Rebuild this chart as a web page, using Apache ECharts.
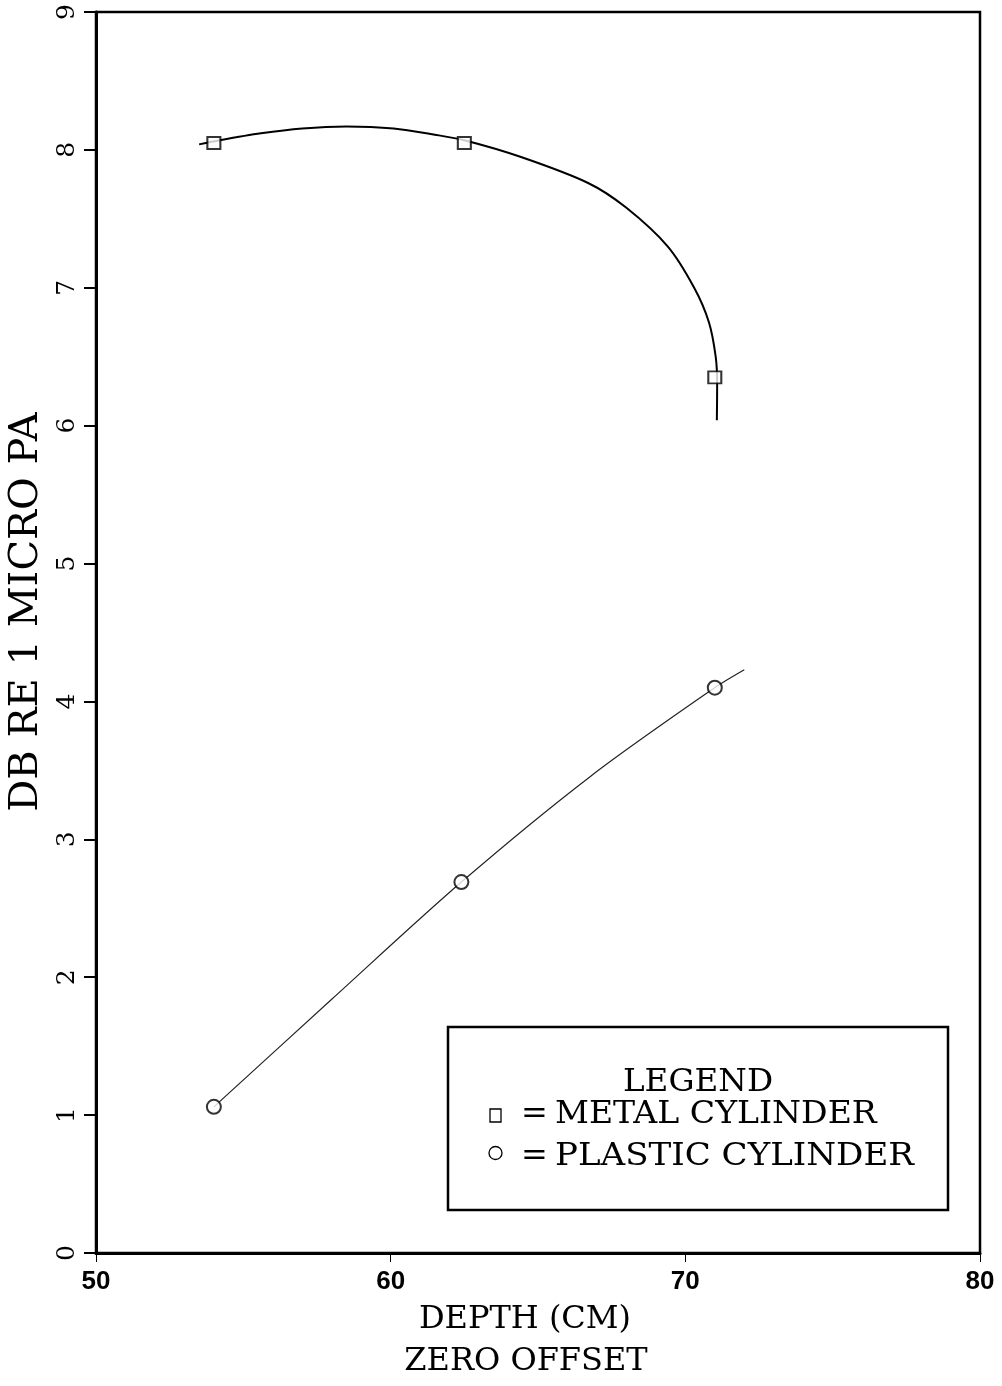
<!DOCTYPE html>
<html>
<head>
<meta charset="utf-8">
<script src="https://cdn.jsdelivr.net/npm/echarts@6/dist/echarts.min.js"></script>
<style>
html,body{margin:0;padding:0;background:#fff;}
#chart{width:1002px;height:1386px;}
</style>
</head>
<body>
<div id="chart"></div>
<script>
// Measured markers
const metalPoints = [[54, 8.05], [62.5, 8.05], [71, 6.35]];
const plasticPoints = [[54, 1.06], [62.4, 2.69], [71, 4.10]];
// Fitted curves
const metalCurve = [[53.5, 8.04], [54.2, 8.07], [55.6, 8.12], [57, 8.155], [58.5, 8.17], [60.1, 8.155], [61.5, 8.11], [62.5, 8.07], [64.4, 7.95], [66.7, 7.76], [68.0, 7.58], [69.4, 7.30], [70.3, 7.00], [70.8, 6.75], [71.03, 6.5], [71.08, 6.3], [71.07, 6.04]];
const plasticCurve = [[54, 1.06], [58, 1.84], [62.4, 2.69], [66.8, 3.46], [71, 4.10], [72, 4.23]];
const xTicks = [50, 60, 70, 80];
const yTicks = [0, 1, 2, 3, 4, 5, 6, 7, 8, 9];
const yTitle = 'DB RE 1 MICRO PA';
const xTitle1 = 'DEPTH (CM)';
const xTitle2 = 'ZERO OFFSET';
const legendTitle = 'LEGEND';
const legendNames = ['METAL CYLINDER', 'PLASTIC CYLINDER'];

const chart = echarts.init(document.getElementById('chart'));
const serif = '"DejaVu Serif", serif';
chart.setOption({
  animation: false,
  backgroundColor: '#fff',
  grid: { left: 96, right: 22, top: 12, bottom: 133, show: true, borderColor: '#000', borderWidth: 2.5 },
  xAxis: {
    type: 'value', min: xTicks[0], max: xTicks[xTicks.length - 1], interval: 10,
    axisLine: { lineStyle: { color: '#000', width: 3 } },
    axisTick: { show: true, length: 9, lineStyle: { color: '#000', width: 1 } },
    axisLabel: { margin: 16, color: '#000', fontFamily: '"Liberation Sans", sans-serif', fontWeight: 'bold', fontSize: 26 },
    splitLine: { show: false }
  },
  yAxis: {
    type: 'value', min: yTicks[0], max: yTicks[yTicks.length - 1], interval: 1,
    axisLine: { lineStyle: { color: '#000', width: 3 } },
    axisTick: { show: true, length: 12, lineStyle: { color: '#000', width: 2 } },
    axisLabel: { rotate: 90, margin: 16, color: '#000', fontFamily: serif, fontSize: 25 },
    splitLine: { show: false }
  },
  series: [
    { type: 'line', data: metalCurve, smooth: 0.3, symbol: 'none', lineStyle: { color: '#000', width: 2 }, z: 3 },
    { type: 'scatter', data: metalPoints, symbol: 'emptyRect', symbolSize: [13, 12], itemStyle: { color: '#000', borderColor: '#000', borderWidth: 1.5 }, z: 4 },
    { type: 'line', data: plasticCurve, smooth: 0.3, symbol: 'none', lineStyle: { color: '#222', width: 1.2 }, z: 3 },
    { type: 'scatter', data: plasticPoints, symbol: 'emptyCircle', symbolSize: 14, itemStyle: { color: '#000', borderColor: '#000', borderWidth: 1.5 }, z: 4 }
  ],
  graphic: [
    { type: 'text', x: 27, y: 612, rotation: Math.PI / 2, style: { text: yTitle, font: '40px ' + serif, fill: '#000', textAlign: 'center', textVerticalAlign: 'middle' } },
    { type: 'text', x: 525, y: 1320, style: { text: xTitle1, font: '32px ' + serif, fill: '#000', textAlign: 'center', textVerticalAlign: 'middle' } },
    { type: 'text', x: 526, y: 1362, style: { text: xTitle2, font: '32px ' + serif, fill: '#000', textAlign: 'center', textVerticalAlign: 'middle' } },
    { type: 'rect', shape: { x: 448, y: 1027, width: 500, height: 183 }, style: { fill: '#fff', stroke: '#000', lineWidth: 2.5 }, z: 10 },
    { type: 'text', x: 698, y: 1083, scaleX: 1.02, style: { text: legendTitle, font: '32px ' + serif, fill: '#000', textAlign: 'center', textVerticalAlign: 'middle' }, z: 11 },
    { type: 'rect', shape: { x: 490, y: 1109, width: 11, height: 13 }, style: { fill: 'none', stroke: '#000', lineWidth: 1.3 }, z: 11 },
    { type: 'circle', shape: { cx: 495.5, cy: 1153, r: 6.5 }, style: { fill: 'none', stroke: '#000', lineWidth: 1.3 }, z: 11 },
    { type: 'text', x: 521, y: 1115, style: { text: '=', font: '32px ' + serif, fill: '#000', textAlign: 'left', textVerticalAlign: 'middle' }, z: 11 },
    { type: 'text', x: 521, y: 1157, style: { text: '=', font: '32px ' + serif, fill: '#000', textAlign: 'left', textVerticalAlign: 'middle' }, z: 11 },
    { type: 'text', x: 555, y: 1115, scaleX: 1.035, style: { text: legendNames[0], font: '32px ' + serif, fill: '#000', textAlign: 'left', textVerticalAlign: 'middle' }, z: 11 },
    { type: 'text', x: 555, y: 1157, scaleX: 1.065, style: { text: legendNames[1], font: '32px ' + serif, fill: '#000', textAlign: 'left', textVerticalAlign: 'middle' }, z: 11 }
  ]
});
</script>
</body>
</html>
